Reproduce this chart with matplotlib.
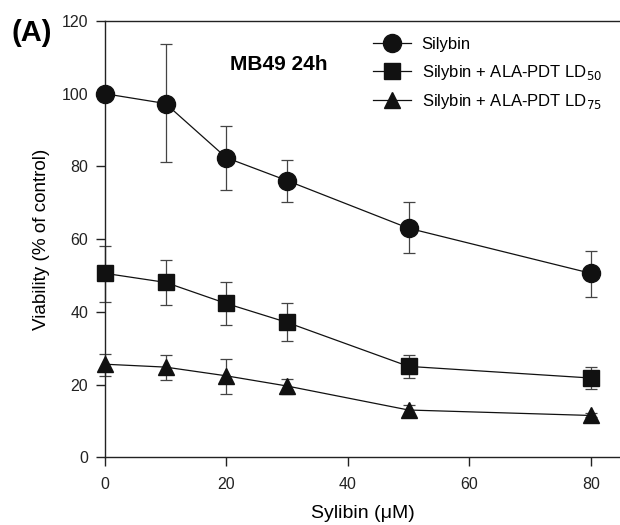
import matplotlib
matplotlib.use("Agg")
import matplotlib.pyplot as plt

plt.rcParams['font.family'] = ['Liberation Sans', 'DejaVu Sans']

conc = [0, 10, 20, 30, 50, 80]
silybin = [100.0, 97.3, 82.4, 76.1, 63.0, 50.6]
silybin_lo = [100.0, 81.1, 73.4, 70.3, 56.1, 44.1]
silybin_hi = [100.0, 113.6, 91.2, 81.7, 70.3, 56.8]
ld50 = [50.6, 48.1, 42.3, 37.1, 25.0, 21.8]
ld50_lo = [42.8, 41.8, 36.3, 31.9, 21.8, 18.8]
ld50_hi = [58.2, 54.2, 48.2, 42.5, 28.1, 24.9]
ld75 = [25.6, 24.8, 22.4, 19.6, 13.0, 11.5]
ld75_lo = [22.3, 21.2, 17.5, 17.3, 11.3, 11.0]
ld75_hi = [28.3, 28.0, 26.9, 21.5, 14.5, 12.2]

fig = plt.figure(figsize=(6.2, 5.25), dpi=100)
ax = fig.add_axes([0.169, 0.129, 0.831, 0.831])

series = [
    (silybin, silybin_lo, silybin_hi, 'o', 13, 'Silybin'),
    (ld50, ld50_lo, ld50_hi, 's', 11, 'Silybin + ALA-PDT LD$_{50}$'),
    (ld75, ld75_lo, ld75_hi, '^', 12, 'Silybin + ALA-PDT LD$_{75}$'),
]
for vals, lo, hi, m, ms, lab in series:
    yerr = [[v - l for v, l in zip(vals, lo)], [h - v for v, h in zip(vals, hi)]]
    ax.errorbar(conc, vals, yerr=yerr, fmt='none', ecolor='#444444',
                elinewidth=0.9, capsize=4, capthick=0.9, clip_on=False, zorder=2)
    ax.plot(conc, vals, color='#111111', lw=0.9, marker=m, ms=ms,
            mfc='#111111', mec='#111111', label=lab, clip_on=False, zorder=3)

ax.set_xlim(0, 84.8)
ax.set_ylim(0, 120)
ax.set_xticks([0, 20, 40, 60, 80])
ax.set_yticks([0, 20, 40, 60, 80, 100, 120])
ax.spines['right'].set_visible(False)
for s in ['left', 'bottom', 'top']:
    ax.spines[s].set_linewidth(1.0)
    ax.spines[s].set_color('#222222')
ax.tick_params(direction='out', length=6.5, width=1.0, labelsize=11.5, colors='#222222')
ax.tick_params(axis='x', pad=8)
ax.tick_params(axis='y', pad=5.5)

ax.set_xlabel('Sylibin (μM)', fontsize=14, labelpad=9)
ax.set_ylabel('Viability (% of control)', fontsize=13.6, labelpad=8)

ax.text(0.338, 0.901, 'MB49 24h', transform=ax.transAxes, fontsize=15,
        fontweight='bold', ha='center', va='center')
fig.text(0.018, 0.938, '(A)', fontsize=21, fontweight='bold', ha='left', va='center')

leg = ax.legend(loc='upper left', bbox_to_anchor=(0.508, 0.978), frameon=False,
                fontsize=12, handlelength=2.27, handletextpad=0.64,
                labelspacing=0.62, borderaxespad=0)

fig.savefig('out.png', dpi=100)
